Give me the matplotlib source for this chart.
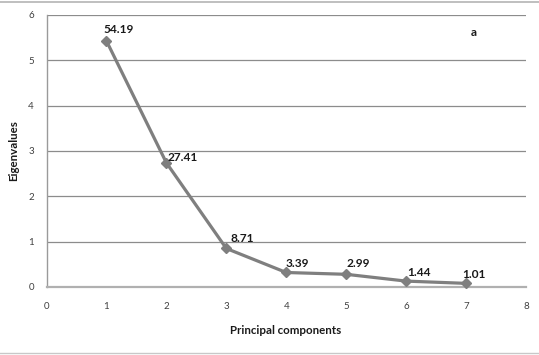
import matplotlib
matplotlib.use("Agg")
import matplotlib.pyplot as plt
from matplotlib.lines import Line2D

components = [1, 2, 3, 4, 5, 6, 7]
eigenvalues = [5.43, 2.74, 0.85, 0.32, 0.28, 0.13, 0.08]
pct_labels = ["54.19", "27.41", "8.71", "3.39", "2.99", "1.44", "1.01"]
# label offsets in pixels (dx, dy) relative to each point
label_offsets = [(-3, 11), (1, 5), (4, 10), (-1, 9), (0, 11), (1, 9), (-4, 9)]
x_ticks = list(range(0, 9))
y_ticks = list(range(0, 7))

plt.rcParams['font.family'] = ['Lato', 'DejaVu Sans']

fig = plt.figure(figsize=(5.39, 3.55), dpi=100)
ax = fig.add_axes([46.5 / 539, 1 - 287 / 355, (526 - 46.5) / 539, (287 - 15) / 355])

ax.set_xlim(0, 8)
ax.set_ylim(0, 6)
ax.set_xticks(x_ticks)
ax.set_yticks(y_ticks)
ax.tick_params(length=0, labelsize=7, colors='#404040')
ax.tick_params(axis='y', pad=9)
ax.tick_params(axis='x', pad=11)

for y in y_ticks[1:]:
    ax.axhline(y, color='#8c8c8c', lw=0.9, zorder=1)

for s in ['top', 'right']:
    ax.spines[s].set_visible(False)
ax.spines['left'].set_color('#9a9a9a')
ax.spines['left'].set_linewidth(1.0)
ax.spines['bottom'].set_color('#b0b0b0')
ax.spines['bottom'].set_linewidth(1.6)

ax.plot(components, eigenvalues, color='#7f7f7f', lw=2.3, marker='D',
        markersize=5.5, markerfacecolor='#7f7f7f', markeredgecolor='#7f7f7f',
        zorder=3, clip_on=False)

for xv, yv, lab, (dx, dy) in zip(components, eigenvalues, pct_labels, label_offsets):
    ax.annotate(lab, (xv, yv), xytext=(dx * 0.72, dy * 0.72), textcoords='offset points',
                ha='left', va='center', fontsize=8.6, fontweight='bold', color='#1a1a1a')

fig.text(474 / 539, 1 - 32 / 355, 'a', ha='center', va='center', fontsize=8.5,
         fontweight='bold', color='#1a1a1a')

fig.text(286 / 539, 1 - 331 / 355, 'Principal components', ha='center', va='center',
         fontsize=8.3, fontweight='bold', color='#1a1a1a')
fig.text(14 / 539, 1 - 151 / 355, 'Eigenvalues', ha='center', va='center',
         rotation=90, fontsize=8.3, fontweight='bold', color='#1a1a1a')

# outer frame lines
fig.add_artist(Line2D([0, 1], [1 - 1.5 / 355, 1 - 1.5 / 355], transform=fig.transFigure,
                      color='#b4b4b4', lw=1.2))
fig.add_artist(Line2D([0, 1], [1 - 353 / 355, 1 - 353 / 355], transform=fig.transFigure,
                      color='#c8c8c8', lw=1.0))

fig.savefig('out.png', dpi=100)
